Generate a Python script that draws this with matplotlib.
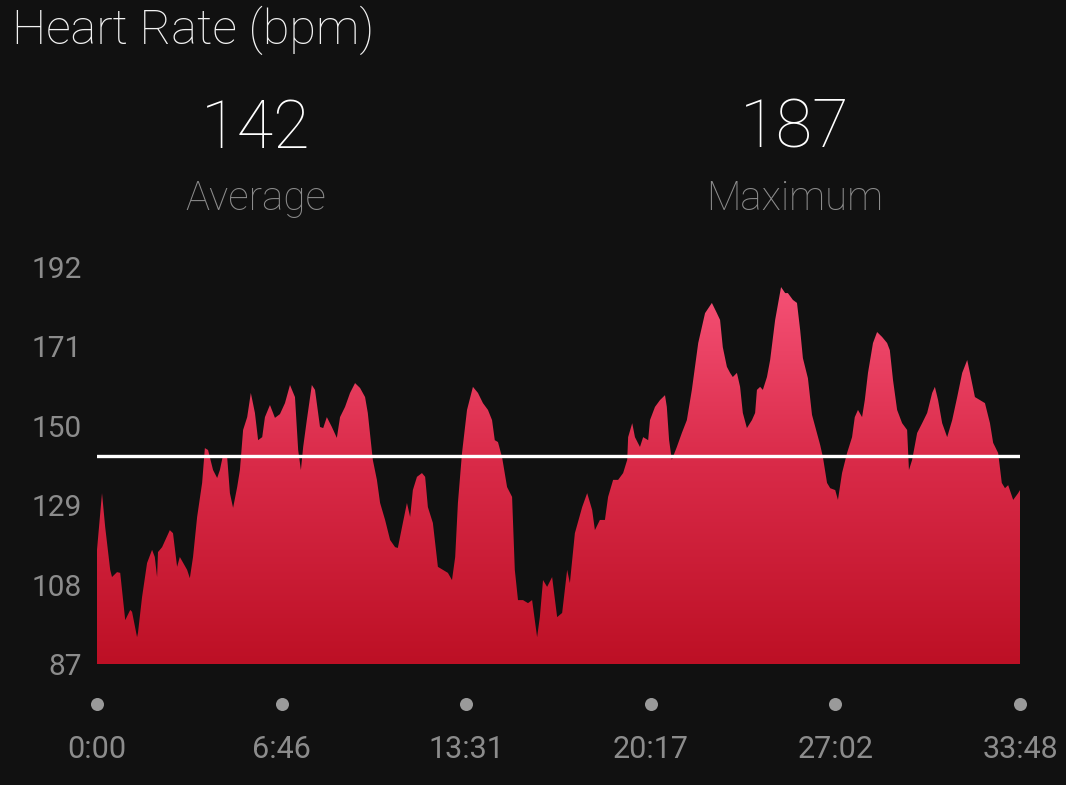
import numpy as np
import matplotlib
matplotlib.use('Agg')
import matplotlib.pyplot as plt
from matplotlib.colors import LinearSegmentedColormap
from matplotlib.patches import Polygon

# elapsed time (seconds) and heart rate (bpm)
seconds = [0, 11, 18, 29, 33, 44, 51, 62, 73, 77, 88, 90, 99, 110, 121, 127, 132, 134, 143, 160,
           167, 176, 182, 198, 204, 211, 220, 231, 237, 244, 255, 264, 270, 277, 286, 292, 299, 308, 314, 321,
           330, 338, 347, 354, 363, 369, 380, 391, 402, 413, 424, 435, 442, 448, 453, 461, 472, 479, 490, 497,
           505, 516, 527, 534, 545, 556, 567, 578, 589, 595, 606, 615, 622, 633, 644, 655, 661, 672, 681, 688,
           694, 703, 714, 721, 727, 738, 749, 760, 771, 780, 787, 793, 802, 813, 826, 837, 848, 859, 868, 874,
           881, 890, 901, 912, 918, 925, 936, 947, 956, 967, 973, 980, 989, 1000, 1011, 1022, 1033, 1039, 1050, 1066,
           1077, 1088, 1094, 1105, 1116, 1123, 1134, 1145, 1156, 1165, 1167, 1176, 1182, 1193, 1200, 1211, 1215, 1226, 1237, 1248,
           1252, 1257, 1263, 1274, 1285, 1296, 1307, 1321, 1336, 1351, 1362, 1369, 1375, 1384, 1391, 1397, 1406, 1413, 1419, 1428,
           1439, 1446, 1450, 1457, 1463, 1472, 1479, 1490, 1503, 1512, 1518, 1529, 1538, 1545, 1551, 1562, 1571, 1580, 1589, 1595,
           1604, 1611, 1622, 1628, 1637, 1648, 1659, 1665, 1672, 1681, 1687, 1694, 1705, 1714, 1725, 1736, 1742, 1749, 1758, 1769,
           1780, 1784, 1791, 1802, 1813, 1824, 1835, 1841, 1848, 1857, 1868, 1879, 1890, 1901, 1912, 1918, 1929, 1940, 1951, 1962,
           1969, 1980, 1988, 1995, 2002, 2013, 2024, 2028]
bpm = [117.2, 132.2, 123.2, 111.9, 110.0, 111.3, 111.1, 98.6, 101.3, 100.8, 94.1, 95.2, 104.7, 113.7, 117.2, 115.3, 110.0, 116.6, 117.9, 122.4,
       121.6, 112.7, 115.3, 111.9, 109.7, 115.3, 125.9, 134.9, 144.1, 143.6, 138.3, 136.2, 138.3, 142.3, 141.7, 132.2, 128.3, 133.8, 138.3, 148.9,
       152.3, 158.7, 153.4, 146.2, 147.0, 152.3, 155.5, 152.1, 153.1, 156.0, 160.8, 157.6, 143.6, 138.3, 144.4, 151.5, 160.8, 159.5, 149.7, 149.4,
       152.3, 149.7, 146.8, 152.3, 155.0, 158.7, 161.3, 160.0, 157.6, 153.4, 141.0, 135.7, 129.6, 125.1, 119.8, 117.9, 117.7, 124.3, 129.6, 125.9,
       133.0, 136.5, 137.5, 136.5, 128.5, 124.3, 112.7, 111.9, 111.1, 109.2, 115.3, 129.6, 142.8, 154.2, 160.3, 158.7, 156.0, 154.2, 151.5, 146.2,
       145.7, 141.7, 133.8, 131.2, 111.9, 103.9, 103.9, 103.1, 103.9, 94.1, 99.4, 109.2, 107.4, 110.0, 99.4, 100.5, 111.9, 108.4, 121.6, 128.5,
       132.2, 127.7, 122.4, 125.1, 125.1, 131.2, 135.7, 135.7, 137.5, 141.0, 147.0, 150.7, 147.0, 144.4, 147.0, 146.2, 151.5, 155.0, 156.8, 158.1,
       155.0, 146.2, 141.0, 144.4, 148.1, 151.5, 159.5, 171.9, 179.8, 182.5, 179.8, 178.0, 170.8, 165.6, 164.0, 162.9, 164.0, 160.3, 153.4, 149.4,
       151.5, 153.4, 159.5, 160.3, 159.5, 162.9, 167.4, 178.0, 186.7, 185.1, 185.1, 183.3, 182.5, 175.3, 167.9, 162.6, 152.9, 148.9, 144.9, 141.7,
       134.9, 133.5, 133.0, 130.4, 137.5, 142.8, 147.0, 152.3, 154.2, 152.3, 156.8, 164.0, 171.9, 174.8, 173.5, 171.9, 170.0, 162.1, 154.2, 150.7,
       148.9, 138.3, 141.0, 148.1, 150.7, 153.4, 158.7, 160.3, 156.8, 150.7, 147.0, 151.5, 157.6, 164.0, 167.4, 164.0, 157.6, 156.8, 156.0, 150.7,
       145.5, 142.8, 134.9, 133.5, 134.3, 130.4, 132.2, 133.0]

average = 142
maximum = 187
y_ticks = [87, 108, 129, 150, 171, 192]
x_ticks = [0, 406, 811, 1217, 1622, 2028]
x_labels = ['0:00', '6:46', '13:31', '20:17', '27:02', '33:48']

bg = '#111111'
grey = '#8c8c8c'
plt.rcParams['font.family'] = ['Roboto', 'DejaVu Sans']

fig = plt.figure(figsize=(10.66, 7.85), dpi=100, facecolor=bg)
ax = fig.add_axes([97 / 1066, 121 / 785, 923 / 1066, 397 / 785])
ax.set_facecolor(bg)
ax.set_xlim(0, 2028)
ax.set_ylim(87, 192)

# gradient fill clipped to the area under the curve
cmap = LinearSegmentedColormap.from_list('hr', ['#bd1025', '#d92a48', '#f8557a'])
grad = np.linspace(0, 1, 256).reshape(-1, 1)
im = ax.imshow(grad, extent=[0, 2028, 87, 192], origin='lower', aspect='auto', cmap=cmap, zorder=1)
verts = np.column_stack([[seconds[0]] + seconds + [seconds[-1]], [87] + bpm + [87]])
area = Polygon(verts, closed=True, facecolor='none', edgecolor='none')
ax.add_patch(area)
im.set_clip_path(area)

ax.axhline(average, color='white', lw=2.4, zorder=3)

for s in ax.spines.values():
    s.set_visible(False)
ax.set_yticks(y_ticks)
ax.set_yticklabels([str(v) for v in y_ticks])
ax.tick_params(axis='y', length=0, pad=11, labelsize=21.5, labelcolor=grey)
ax.set_xticks(x_ticks)
ax.set_xticklabels(x_labels)
ax.tick_params(axis='x', length=0, pad=51, labelsize=22, labelcolor=grey)

# dots above the time labels
ax.scatter(x_ticks, [-40 / 397] * len(x_ticks), s=88, color='#9a9a9a',
           transform=ax.get_xaxis_transform(), clip_on=False, zorder=3, linewidths=0)

fig.text(12 / 1066, 1 - 30 / 785, 'Heart Rate (bpm)', color='#f2f2f2', fontsize=35,
         fontweight='light', va='center', ha='left')
fig.text(256 / 1066, 1 - 130 / 785, str(average), color='white', fontsize=48,
         fontweight='light', ha='center', va='center')
fig.text(795 / 1066, 1 - 130 / 785, str(maximum), color='white', fontsize=48,
         fontweight='light', ha='center', va='center')
fig.text(256 / 1066, 1 - 199 / 785, 'Average', color=grey, fontsize=29,
         fontweight='light', ha='center', va='center')
fig.text(795 / 1066, 1 - 199 / 785, 'Maximum', color=grey, fontsize=29,
         fontweight='light', ha='center', va='center')

fig.savefig('out.png', dpi=100, facecolor=bg)
